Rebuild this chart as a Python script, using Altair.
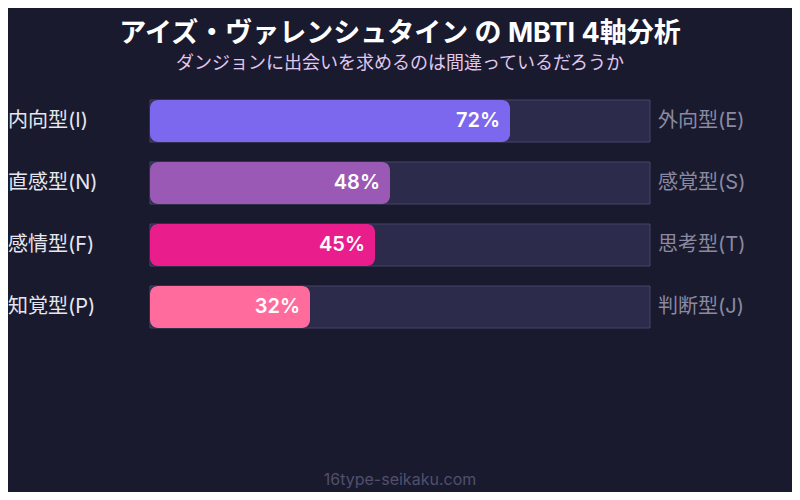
import altair as alt
import pandas as pd

# data
left_labels = ["内向型(I)", "直感型(N)", "感情型(F)", "知覚型(P)"]
right_labels = ["外向型(E)", "感覚型(S)", "思考型(T)", "判断型(J)"]
percents = [72, 48, 45, 32]
bar_colors = ["#7b68ee", "#9b59b6", "#e91e8c", "#ff6b9d"]

title_text = "アイズ・ヴァレンシュタイン の MBTI 4軸分析"
subtitle_text = "ダンジョンに出会いを求めるのは間違っているだろうか"
footer_text = "16type-seikaku.com"

FONT = "Inter, Noto Sans CJK JP"
BG = "#1a1a2e"

df = pd.DataFrame({
    "left": left_labels,
    "right": right_labels,
    "pct": percents,
    "label": [f"{p}%" for p in percents],
})

x_scale = alt.Scale(domain=[0, 100], range=[142, 642])
y_scale = alt.Scale(domain=left_labels, range=[92, 320], paddingInner=20 / 62, paddingOuter=0)

base = alt.Chart(df)
y_enc = alt.Y("left:N", scale=y_scale, axis=None)

track = base.mark_bar(color="#2d2b4b", stroke="#45456a", strokeWidth=1, cornerRadius=0).encode(
    x=alt.datum(0, scale=x_scale, axis=None),
    x2=alt.datum(100),
    y=y_enc,
)

fill = base.mark_bar(cornerRadius=8).encode(
    x=alt.X("pct:Q", scale=x_scale, axis=None, stack=None),
    x2=alt.datum(0),
    y=y_enc,
    color=alt.Color("left:N", scale=alt.Scale(domain=left_labels, range=bar_colors), legend=None),
)

pct_text = base.mark_text(
    align="right", baseline="middle", dx=-10, font=FONT, fontSize=20, fontWeight=600, color="white"
).encode(
    x=alt.X("pct:Q", scale=x_scale, axis=None),
    y=y_enc,
    text="label:N",
)

left_text = base.mark_text(
    align="left", baseline="middle", font=FONT, fontSize=20, color="#e6e6f0"
).encode(x=alt.value(0), y=y_enc, text="left:N")

right_text = base.mark_text(
    align="left", baseline="middle", font=FONT, fontSize=20, color="#8a8aa2"
).encode(x=alt.value(650), y=y_enc, text="right:N")

title = alt.Chart(pd.DataFrame({"t": [title_text]})).mark_text(
    align="center", baseline="middle", font=FONT, fontSize=27, fontWeight="bold", color="white"
).encode(x=alt.value(392), y=alt.value(26), text="t:N")

subtitle = alt.Chart(pd.DataFrame({"t": [subtitle_text]})).mark_text(
    align="center", baseline="middle", font=FONT, fontSize=18, color="#e0c8ee"
).encode(x=alt.value(392), y=alt.value(56), text="t:N")

footer = alt.Chart(pd.DataFrame({"t": [footer_text]})).mark_text(
    align="center", baseline="middle", font=FONT, fontSize=16, color="#50506c"
).encode(x=alt.value(392), y=alt.value(472), text="t:N")

chart = alt.layer(track, fill, pct_text, left_text, right_text, title, subtitle, footer).properties(
    width=784,
    height=484,
    background=BG,
    padding=0,
    autosize=alt.AutoSizeParams(type="none"),
).configure_view(stroke=None)

chart.save("out.html", embed_options={"renderer": "svg", "actions": False})
